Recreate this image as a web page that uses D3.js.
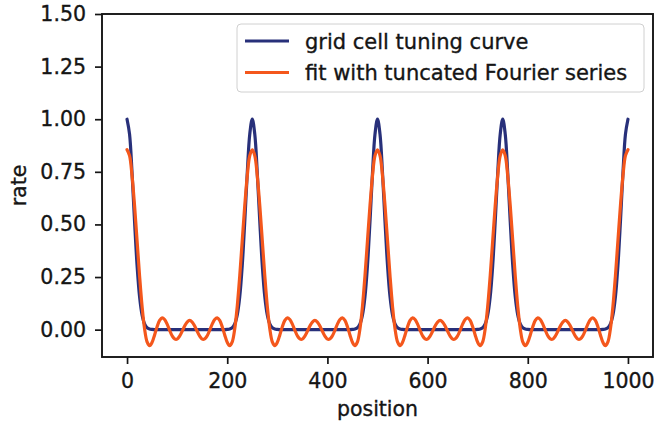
<!DOCTYPE html>
<html>
<head>
<meta charset="utf-8">
<script src="https://cdn.jsdelivr.net/npm/d3@7"></script>
<style>
  html, body { margin: 0; padding: 0; background: #fff; }
  svg { display: block; }
  text { font-family: "DejaVu Sans", sans-serif; fill: #151515; stroke: #151515; stroke-width: 0.35px; }
</style>
</head>
<body>
<svg id="chart" width="656" height="423"></svg>
<script>
// Sample positions along the track (every 5 units)
const positions = [
  0,5,10,15,20,25,30,35,40,45,50,55,60,65,70,75,80,85,90,95,
  100,105,110,115,120,125,130,135,140,145,150,155,160,165,170,175,180,185,190,195,
  200,205,210,215,220,225,230,235,240,245,250,255,260,265,270,275,280,285,290,295,
  300,305,310,315,320,325,330,335,340,345,350,355,360,365,370,375,380,385,390,395,
  400,405,410,415,420,425,430,435,440,445,450,455,460,465,470,475,480,485,490,495,
  500,505,510,515,520,525,530,535,540,545,550,555,560,565,570,575,580,585,590,595,
  600,605,610,615,620,625,630,635,640,645,650,655,660,665,670,675,680,685,690,695,
  700,705,710,715,720,725,730,735,740,745,750,755,760,765,770,775,780,785,790,795,
  800,805,810,815,820,825,830,835,840,845,850,855,860,865,870,875,880,885,890,895,
  900,905,910,915,920,925,930,935,940,945,950,955,960,965,970,975,980,985,990,995,
  1000
];

// Grid cell firing rate at each position
const tuningRate = [
  1.000,0.929,0.744,0.514,0.306,0.157,0.070,0.027,0.009,0.003,0.001,0,0,0,0,0,0,0,0,0,
  0,0,0,0,0,0,0,0,0,0,0,0,0,0,0,0,0,0,0,0,
  0.001,0.003,0.009,0.027,0.070,0.157,0.306,0.514,0.744,0.929,
  1.000,0.929,0.744,0.514,0.306,0.157,0.070,0.027,0.009,0.003,0.001,0,0,0,0,0,0,0,0,0,
  0,0,0,0,0,0,0,0,0,0,0,0,0,0,0,0,0,0,0,0,
  0.001,0.003,0.009,0.027,0.070,0.157,0.306,0.514,0.744,0.929,
  1.000,0.929,0.744,0.514,0.306,0.157,0.070,0.027,0.009,0.003,0.001,0,0,0,0,0,0,0,0,0,
  0,0,0,0,0,0,0,0,0,0,0,0,0,0,0,0,0,0,0,0,
  0.001,0.003,0.009,0.027,0.070,0.157,0.306,0.514,0.744,0.929,
  1.000,0.929,0.744,0.514,0.306,0.157,0.070,0.027,0.009,0.003,0.001,0,0,0,0,0,0,0,0,0,
  0,0,0,0,0,0,0,0,0,0,0,0,0,0,0,0,0,0,0,0,
  0.001,0.003,0.009,0.027,0.070,0.157,0.306,0.514,0.744,0.929,
  1.000
];

// Truncated Fourier series fit at each position
const fourierFit = [
  0.855,0.827,0.731,0.589,0.423,0.256,0.111,0.004,-0.058,-0.076,-0.060,-0.025,0.014,0.044,0.056,0.048,0.026,-0.003,-0.029,-0.044,
  -0.045,-0.031,-0.008,0.017,0.036,0.044,0.036,0.017,-0.008,-0.031,-0.045,-0.044,-0.029,-0.003,0.026,0.048,0.056,0.044,0.014,-0.025,
  -0.060,-0.076,-0.058,0.004,0.111,0.256,0.423,0.589,0.731,0.827,
  0.855,0.827,0.731,0.589,0.423,0.256,0.111,0.004,-0.058,-0.076,-0.060,-0.025,0.014,0.044,0.056,0.048,0.026,-0.003,-0.029,-0.044,
  -0.045,-0.031,-0.008,0.017,0.036,0.044,0.036,0.017,-0.008,-0.031,-0.045,-0.044,-0.029,-0.003,0.026,0.048,0.056,0.044,0.014,-0.025,
  -0.060,-0.076,-0.058,0.004,0.111,0.256,0.423,0.589,0.731,0.827,
  0.855,0.827,0.731,0.589,0.423,0.256,0.111,0.004,-0.058,-0.076,-0.060,-0.025,0.014,0.044,0.056,0.048,0.026,-0.003,-0.029,-0.044,
  -0.045,-0.031,-0.008,0.017,0.036,0.044,0.036,0.017,-0.008,-0.031,-0.045,-0.044,-0.029,-0.003,0.026,0.048,0.056,0.044,0.014,-0.025,
  -0.060,-0.076,-0.058,0.004,0.111,0.256,0.423,0.589,0.731,0.827,
  0.855,0.827,0.731,0.589,0.423,0.256,0.111,0.004,-0.058,-0.076,-0.060,-0.025,0.014,0.044,0.056,0.048,0.026,-0.003,-0.029,-0.044,
  -0.045,-0.031,-0.008,0.017,0.036,0.044,0.036,0.017,-0.008,-0.031,-0.045,-0.044,-0.029,-0.003,0.026,0.048,0.056,0.044,0.014,-0.025,
  -0.060,-0.076,-0.058,0.004,0.111,0.256,0.423,0.589,0.731,0.827,
  0.855
];

const xTicks = [0, 200, 400, 600, 800, 1000];
const yTicks = [0.00, 0.25, 0.50, 0.75, 1.00, 1.25, 1.50];
const seriesNames = ["grid cell tuning curve", "fit with tuncated Fourier series"];
const seriesColors = ["#28307a", "#f4571c"];

const svg = d3.select("#chart");
const plot = { left: 102, top: 14, right: 653, bottom: 357 };

const x = d3.scaleLinear().domain([-50, 1050]).range([plot.left, plot.right]);
const y = d3.scaleLinear().domain([-0.13, 1.5]).range([plot.bottom, plot.top]);

// Curves
const line = d3.line()
  .x(d => x(d[0]))
  .y(d => y(d[1]))
  .curve(d3.curveCatmullRom.alpha(0.5));

const seriesData = [tuningRate, fourierFit].map(vals => positions.map((p, i) => [p, vals[i]]));

svg.append("g")
  .selectAll("path")
  .data(seriesData)
  .join("path")
  .attr("d", line)
  .attr("fill", "none")
  .attr("stroke", (d, i) => seriesColors[i])
  .attr("stroke-width", 3.2)
  .attr("stroke-linejoin", "round")
  .attr("stroke-linecap", "round");

// Axes
const xAxis = d3.axisBottom(x).tickValues(xTicks).tickFormat(d3.format("d")).tickSize(7).tickPadding(9);
const yAxis = d3.axisLeft(y).tickValues(yTicks).tickFormat(d3.format(".2f")).tickSize(7).tickPadding(9);

const gx = svg.append("g").attr("transform", `translate(0,${plot.bottom})`).call(xAxis);
const gy = svg.append("g").attr("transform", `translate(${plot.left},0)`).call(yAxis);

[gx, gy].forEach(g => {
  g.select(".domain").remove();
  g.selectAll(".tick line").attr("stroke", "#151515").attr("stroke-width", 1.7);
  g.selectAll(".tick text")
    .attr("font-family", "DejaVu Sans, sans-serif")
    .attr("font-size", 20.5)
    .attr("fill", "#151515");
});

// Axes frame
svg.append("rect")
  .attr("x", plot.left)
  .attr("y", plot.top)
  .attr("width", plot.right - plot.left)
  .attr("height", plot.bottom - plot.top)
  .attr("fill", "none")
  .attr("stroke", "#151515")
  .attr("stroke-width", 1.9);

// Axis labels
svg.append("text")
  .attr("x", (plot.left + plot.right) / 2)
  .attr("y", 416)
  .attr("text-anchor", "middle")
  .attr("font-size", 20.5)
  .text("position");

svg.append("text")
  .attr("transform", `translate(26,${(plot.top + plot.bottom) / 2}) rotate(-90)`)
  .attr("text-anchor", "middle")
  .attr("font-size", 20.5)
  .text("rate");

// Legend
const legend = svg.append("g");
legend.append("rect")
  .attr("x", 237).attr("y", 24)
  .attr("width", 407).attr("height", 68)
  .attr("rx", 4)
  .attr("fill", "#fff").attr("fill-opacity", 0.85)
  .attr("stroke", "#d0d0d0").attr("stroke-width", 1);

const rows = legend.selectAll("g.row")
  .data(seriesNames)
  .join("g")
  .attr("class", "row")
  .attr("transform", (d, i) => `translate(0,${41 + i * 31.5})`);

rows.append("line")
  .attr("x1", 245).attr("x2", 289)
  .attr("y1", 0).attr("y2", 0)
  .attr("stroke", (d, i) => seriesColors[i])
  .attr("stroke-width", 3.2);

rows.append("text")
  .attr("x", 305)
  .attr("y", 7.5)
  .attr("font-size", 21)
  .text(d => d);
</script>
</body>
</html>
